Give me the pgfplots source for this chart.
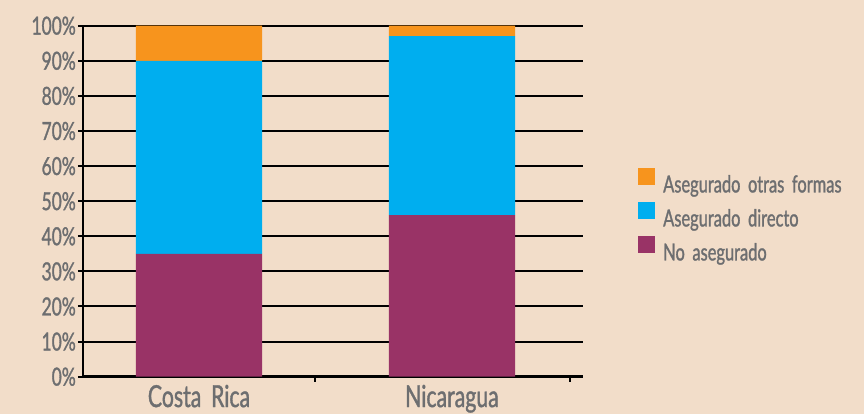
\documentclass[border=0pt]{standalone}
\usepackage{pgfplots}
\pgfplotsset{compat=1.18}
\usepackage{fontspec}
\setmainfont{Lato}[FakeStretch=0.7, FakeBold=1.2, WordSpace=1.8]
\definecolor{bgc}{HTML}{F2DDC9}
\definecolor{txt}{HTML}{6D6E70}
\definecolor{cor}{HTML}{F7941D}
\definecolor{cbl}{HTML}{00AEEF}
\definecolor{cmg}{HTML}{993366}
\begin{document}
\begin{tikzpicture}
\useasboundingbox (0,0) rectangle (864bp,414bp);
\fill[bgc] (0,0) rectangle (864bp,414bp);
\begin{axis}[
  at={(83bp,37.3bp)}, anchor=south west,
  scale only axis, width=500bp, height=351bp,
  xmin=0, xmax=500, ymin=0, ymax=100,
  ybar stacked, bar width=126bp,
  axis x line=bottom, axis y line=left,
  axis line style={-, black, line width=2.5bp},
  ymajorgrids, grid style={black, line width=2bp},
  ytick={0,10,...,100},
  yticklabel={\pgfmathprintnumber{\tick}\%},
  /pgf/number format/assume math mode=true,
  tick align=outside, major tick length=5bp,
  tick style={black, line width=2bp},
  xtick={232,487}, xticklabels={},
  extra x ticks={116,369},
  extra x tick labels={Costa Rica,Nicaragua},
  extra x tick style={major tick length=0pt, grid=none},
  y tick label style={font=\fontsize{25}{25}\selectfont, text=txt, inner sep=2bp},
  x tick label style={font=\fontsize{30.5}{30.5}\selectfont, text=txt, inner sep=2bp, yshift=-6bp},
  legend image code/.code={\fill[#1, draw=none] (0bp,-1bp) rectangle (17bp,16bp);},
  reverse legend,
  legend style={at={(1.11,0.463)}, anchor=west, draw=none, fill=none,
    font=\fontsize{23.6}{23.6}\selectfont, text=txt,
    row sep=9.5bp, inner sep=0pt,
    nodes={inner sep=0pt, text height=17bp, text depth=0pt}},
  legend cell align=left,
  /tikz/every odd column/.append style={column sep=8bp},
]
\addplot[fill=cmg, draw=none] coordinates {(116,35) (369,46)};
\addplot[fill=cbl, draw=none] coordinates {(116,55) (369,51)};
\addplot[fill=cor, draw=none] coordinates {(116,10) (369,3)};
\legend{No asegurado, Asegurado directo, Asegurado otras formas}
\end{axis}
\end{tikzpicture}
\end{document}
